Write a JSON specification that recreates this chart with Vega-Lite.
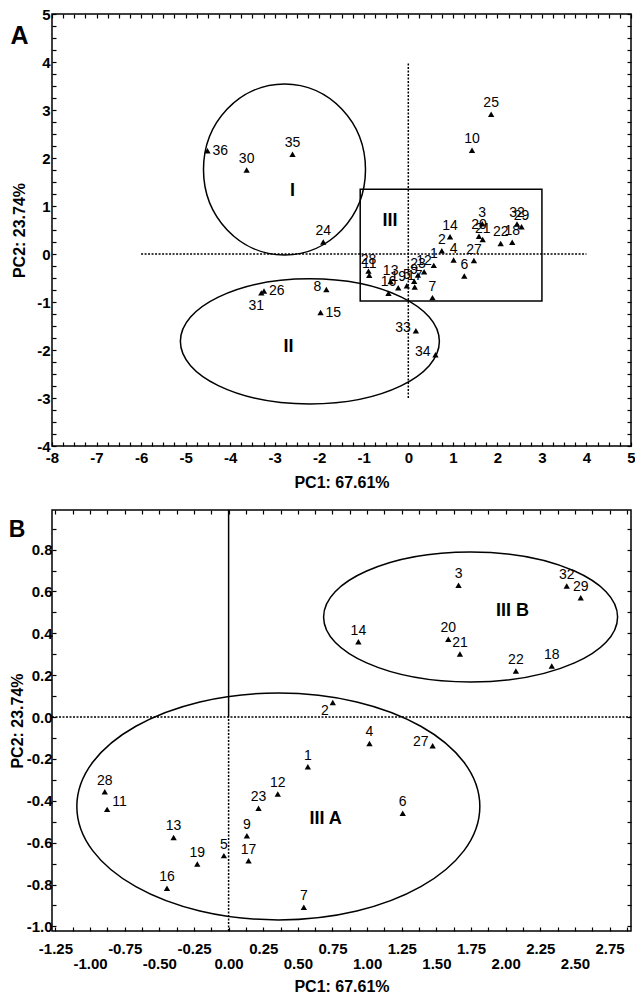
{
  "$schema": "https://vega.github.io/schema/vega-lite/v6.json",
  "background": "white",
  "padding": {"left": 8, "top": 6, "right": 0, "bottom": 0},
  "spacing": 17,
  "config": {
    "font": "Liberation Sans",
    "view": {"stroke": "black", "strokeWidth": 1.5},
    "axis": {
      "labelFont": "Liberation Sans", "labelFontSize": 15, "labelFontWeight": "bold", "labelColor": "black",
      "titleFont": "Liberation Sans", "titleFontSize": 16, "titleFontWeight": "bold", "titleColor": "black",
      "gridColor": "#d2d2d2", "gridDash": [2, 1], "gridWidth": 1,
      "domain": false,
      "tickColor": "black", "tickSize": -4, "tickWidth": 1.2,
      "labelFlush": false, "labelOverlap": false, "labelBound": false
    }
  },
  "datasets": {
    "pts": [
      {"id": 1, "pc1": 0.572, "pc2": -0.237, "grp": "III A"},
      {"id": 2, "pc1": 0.752, "pc2": 0.070, "grp": "III A"},
      {"id": 3, "pc1": 1.660, "pc2": 0.630, "grp": "III B"},
      {"id": 4, "pc1": 1.017, "pc2": -0.126, "grp": "III A"},
      {"id": 5, "pc1": -0.034, "pc2": -0.662, "grp": "III A"},
      {"id": 6, "pc1": 1.257, "pc2": -0.460, "grp": "III A"},
      {"id": 7, "pc1": 0.543, "pc2": -0.909, "grp": "III A"},
      {"id": 8, "pc1": -1.84, "pc2": -0.74, "grp": "II"},
      {"id": 9, "pc1": 0.132, "pc2": -0.567, "grp": "III A"},
      {"id": 10, "pc1": 1.43, "pc2": 2.16, "grp": "none"},
      {"id": 11, "pc1": -0.877, "pc2": -0.441, "grp": "III A"},
      {"id": 12, "pc1": 0.355, "pc2": -0.368, "grp": "III A"},
      {"id": 13, "pc1": -0.397, "pc2": -0.575, "grp": "III A"},
      {"id": 14, "pc1": 0.937, "pc2": 0.360, "grp": "III B"},
      {"id": 15, "pc1": -1.97, "pc2": -1.22, "grp": "II"},
      {"id": 16, "pc1": -0.445, "pc2": -0.818, "grp": "III A"},
      {"id": 17, "pc1": 0.144, "pc2": -0.686, "grp": "III A"},
      {"id": 18, "pc1": 2.333, "pc2": 0.244, "grp": "III B"},
      {"id": 19, "pc1": -0.226, "pc2": -0.702, "grp": "III A"},
      {"id": 20, "pc1": 1.586, "pc2": 0.372, "grp": "III B"},
      {"id": 21, "pc1": 1.670, "pc2": 0.301, "grp": "III B"},
      {"id": 22, "pc1": 2.074, "pc2": 0.220, "grp": "III B"},
      {"id": 23, "pc1": 0.216, "pc2": -0.436, "grp": "III A"},
      {"id": 24, "pc1": -1.91, "pc2": 0.25, "grp": "I"},
      {"id": 25, "pc1": 1.86, "pc2": 2.91, "grp": "none"},
      {"id": 26, "pc1": -3.24, "pc2": -0.77, "grp": "II"},
      {"id": 27, "pc1": 1.473, "pc2": -0.137, "grp": "III A"},
      {"id": 28, "pc1": -0.894, "pc2": -0.357, "grp": "III A"},
      {"id": 29, "pc1": 2.542, "pc2": 0.570, "grp": "III B"},
      {"id": 30, "pc1": -3.63, "pc2": 1.75, "grp": "I"},
      {"id": 31, "pc1": -3.30, "pc2": -0.81, "grp": "II"},
      {"id": 32, "pc1": 2.441, "pc2": 0.626, "grp": "III B"},
      {"id": 33, "pc1": 0.17, "pc2": -1.60, "grp": "II"},
      {"id": 34, "pc1": 0.61, "pc2": -2.10, "grp": "II"},
      {"id": 35, "pc1": -2.60, "pc2": 2.08, "grp": "I"},
      {"id": 36, "pc1": -4.51, "pc2": 2.15, "grp": "I"}
    ],
    "groupsA": [
      {"name": "I", "pc1": -2.78, "pc2": 1.76},
      {"name": "II", "pc1": -2.21, "pc2": -1.82}
    ],
    "groupsB": [
      {"name": "III A", "pc1": 0.359, "pc2": -0.427},
      {"name": "III B", "pc1": 1.747, "pc2": 0.478}
    ],
    "regionsA": [
      {"label": "I", "pc1": -2.6, "pc2": 1.31},
      {"label": "II", "pc1": -2.69, "pc2": -1.94},
      {"label": "III", "pc1": -0.41, "pc2": 0.68}
    ],
    "regionsB": [
      {"label": "III A", "pc1": 0.70, "pc2": -0.487},
      {"label": "III B", "pc1": 2.05, "pc2": 0.506}
    ],
    "panelA": [{"label": "A", "pc1": -8.73, "pc2": 4.54}],
    "panelB": [{"label": "B", "pc1": -1.527, "pc2": 0.895}],
    "boxA": [{"pc1": -1.08, "pc1_2": 3.0, "pc2": -0.98, "pc2_2": 1.35}],
    "zeroA": [
      {"pc1": -6, "pc1_2": 4, "pc2": 0, "pc2_2": 0},
      {"pc1": 0, "pc1_2": 0, "pc2": -3, "pc2_2": 4}
    ],
    "zeroBdotted": [
      {"pc1": -1.275, "pc1_2": 2.905, "pc2": 0, "pc2_2": 0},
      {"pc1": 0, "pc1_2": 0, "pc2": -1.022, "pc2_2": 0}
    ],
    "zeroBsolid": [
      {"pc1": 0, "pc1_2": 0, "pc2": 0, "pc2_2": 0.989}
    ]
  },
  "vconcat": [
    {
      "width": 579,
      "height": 432,
      "resolve": {"axis": {"x": "independent", "y": "independent"}},
      "encoding": {
        "x": {"field": "pc1", "type": "quantitative", "scale": {"domain": [-8, 5], "nice": false, "zero": false}, "axis": null},
        "y": {"field": "pc2", "type": "quantitative", "scale": {"domain": [-4, 5], "nice": false, "zero": false}, "axis": null}
      },
      "layer": [
        {
          "data": {"name": "boxA"},
          "mark": {"type": "rect", "filled": false, "color": "black", "strokeWidth": 1.5},
          "encoding": {
            "x": {"field": "pc1", "type": "quantitative", "scale": {"domain": [-8, 5], "nice": false, "zero": false},
                  "axis": {"orient": "top", "title": null, "labels": false, "grid": false, "domain": false,
                           "values": [-8,-7.75,-7.5,-7.25,-7,-6.75,-6.5,-6.25,-6,-5.75,-5.5,-5.25,-5,-4.75,-4.5,-4.25,-4,-3.75,-3.5,-3.25,-3,-2.75,-2.5,-2.25,-2,-1.75,-1.5,-1.25,-1,-0.75,-0.5,-0.25,0,0.25,0.5,0.75,1,1.25,1.5,1.75,2,2.25,2.5,2.75,3,3.25,3.5,3.75,4,4.25,4.5,4.75,5]}},
            "y": {"field": "pc2", "type": "quantitative", "scale": {"domain": [-4, 5], "nice": false, "zero": false},
                  "axis": {"orient": "right", "title": null, "labels": false, "grid": false, "domain": false,
                           "values": [-4,-3.75,-3.5,-3.25,-3,-2.75,-2.5,-2.25,-2,-1.75,-1.5,-1.25,-1,-0.75,-0.5,-0.25,0,0.25,0.5,0.75,1,1.25,1.5,1.75,2,2.25,2.5,2.75,3,3.25,3.5,3.75,4,4.25,4.5,4.75,5]}},
            "x2": {"field": "pc1_2"}, "y2": {"field": "pc2_2"}
          }
        },
        {
          "data": {"name": "zeroA"},
          "mark": {"type": "rule", "color": "black", "strokeWidth": 1.5, "strokeDash": [2, 1.5]},
          "encoding": {"x2": {"field": "pc1_2"}, "y2": {"field": "pc2_2"}}
        },
        {
          "data": {"name": "groupsA"},
          "transform": [{"filter": "datum.name == 'I'"}],
          "mark": {"type": "point", "filled": false, "color": "black", "strokeWidth": 1.5, "opacity": 1, "size": 26244,
                   "shape": "M1,0C1,0.5832,0.5523,1.056,0,1.056C-0.5523,1.056,-1,0.5832,-1,0C-1,-0.5832,-0.5523,-1.056,0,-1.056C0.5523,-1.056,1,-0.5832,1,0Z"}
        },
        {
          "data": {"name": "groupsA"},
          "transform": [{"filter": "datum.name == 'II'"}],
          "mark": {"type": "point", "filled": false, "color": "black", "strokeWidth": 1.5, "opacity": 1, "size": 67081,
                   "shape": "M1,0C1,0.2668,0.5523,0.483,0,0.483C-0.5523,0.483,-1,0.2668,-1,0C-1,-0.2668,-0.5523,-0.483,0,-0.483C0.5523,-0.483,1,-0.2668,1,0Z"}
        },
        {
          "data": {"name": "regionsA"},
          "mark": {"type": "text", "font": "Liberation Sans", "fontSize": 18, "fontWeight": "bold", "color": "black"},
          "encoding": {"text": {"field": "label"}}
        },
        {
          "data": {"name": "panelA"},
          "mark": {"type": "text", "font": "Liberation Sans", "fontSize": 25, "fontWeight": "bold", "color": "black"},
          "encoding": {"text": {"field": "label"}}
        },
        {
          "data": {"name": "pts"},
          "mark": {"type": "point", "shape": "triangle-up", "filled": true, "color": "black", "size": 40, "opacity": 1},
          "encoding": {
            "x": {"field": "pc1", "type": "quantitative", "scale": {"domain": [-8, 5], "nice": false, "zero": false},
                  "axis": {"orient": "bottom", "title": "PC1: 67.61%",
                           "values": [-8,-7.75,-7.5,-7.25,-7,-6.75,-6.5,-6.25,-6,-5.75,-5.5,-5.25,-5,-4.75,-4.5,-4.25,-4,-3.75,-3.5,-3.25,-3,-2.75,-2.5,-2.25,-2,-1.75,-1.5,-1.25,-1,-0.75,-0.5,-0.25,0,0.25,0.5,0.75,1,1.25,1.5,1.75,2,2.25,2.5,2.75,3,3.25,3.5,3.75,4,4.25,4.5,4.75,5],
                           "labelExpr": "datum.value % 1 != 0 ? '' : (datum.value < 0 ? '-' + format(-datum.value, 'd') : format(datum.value, 'd'))",
                           "gridOpacity": {"condition": {"test": "datum.value % 1 == 0", "value": 1}, "value": 0},
                           "labelPadding": 8, "titlePadding": 9}},
            "y": {"field": "pc2", "type": "quantitative", "scale": {"domain": [-4, 5], "nice": false, "zero": false},
                  "axis": {"orient": "left", "title": "PC2: 23.74%",
                           "values": [-4,-3.75,-3.5,-3.25,-3,-2.75,-2.5,-2.25,-2,-1.75,-1.5,-1.25,-1,-0.75,-0.5,-0.25,0,0.25,0.5,0.75,1,1.25,1.5,1.75,2,2.25,2.5,2.75,3,3.25,3.5,3.75,4,4.25,4.5,4.75,5],
                           "labelExpr": "datum.value % 1 != 0 ? '' : (datum.value < 0 ? '-' + format(-datum.value, 'd') : format(datum.value, 'd'))",
                           "gridOpacity": {"condition": {"test": "datum.value % 1 == 0", "value": 1}, "value": 0},
                           "labelPadding": 6, "titlePadding": 9}}
          }
        },
        {
          "data": {"name": "pts"},
          "transform": [{"filter": {"not": {"field": "id", "oneOf": [8, 33, 34, 36, 26, 15, 31]}}}],
          "mark": {"type": "text", "font": "Liberation Sans", "fontSize": 14, "color": "black", "dy": -11},
          "encoding": {"text": {"field": "id", "type": "nominal"}}
        },
        {
          "data": {"name": "pts"},
          "transform": [{"filter": {"field": "id", "oneOf": [8, 33, 34]}}],
          "mark": {"type": "text", "font": "Liberation Sans", "fontSize": 14, "color": "black", "align": "right", "dx": -5, "dy": -3},
          "encoding": {"text": {"field": "id", "type": "nominal"}}
        },
        {
          "data": {"name": "pts"},
          "transform": [{"filter": {"field": "id", "oneOf": [36, 26, 15]}}],
          "mark": {"type": "text", "font": "Liberation Sans", "fontSize": 14, "color": "black", "align": "left", "dx": 5, "dy": 0},
          "encoding": {"text": {"field": "id", "type": "nominal"}}
        },
        {
          "data": {"name": "pts"},
          "transform": [{"filter": {"field": "id", "oneOf": [31]}}],
          "mark": {"type": "text", "font": "Liberation Sans", "fontSize": 14, "color": "black", "dx": -5, "dy": 13},
          "encoding": {"text": {"field": "id", "type": "nominal"}}
        }
      ]
    },
    {
      "width": 579,
      "height": 421,
      "resolve": {"axis": {"x": "independent", "y": "independent"}},
      "encoding": {
        "x": {"field": "pc1", "type": "quantitative", "scale": {"domain": [-1.275, 2.905], "nice": false, "zero": false}, "axis": null},
        "y": {"field": "pc2", "type": "quantitative", "scale": {"domain": [-1.022, 0.989], "nice": false, "zero": false}, "axis": null}
      },
      "layer": [
        {
          "data": {"name": "zeroBdotted"},
          "mark": {"type": "rule", "color": "black", "strokeWidth": 1.5, "strokeDash": [2, 1.5]},
          "encoding": {"x2": {"field": "pc1_2"}, "y2": {"field": "pc2_2"}}
        },
        {
          "data": {"name": "zeroBsolid"},
          "mark": {"type": "rule", "color": "black", "strokeWidth": 1.5},
          "encoding": {
            "x": {"field": "pc1", "type": "quantitative", "scale": {"domain": [-1.275, 2.905], "nice": false, "zero": false},
                  "axis": {"orient": "top", "title": null, "labels": false, "grid": false, "domain": false,
                           "values": [-1.25,-1.125,-1,-0.875,-0.75,-0.625,-0.5,-0.375,-0.25,-0.125,0,0.125,0.25,0.375,0.5,0.625,0.75,0.875,1,1.125,1.25,1.375,1.5,1.625,1.75,1.875,2,2.125,2.25,2.375,2.5,2.625,2.75,2.875]}},
            "y": {"field": "pc2", "type": "quantitative", "scale": {"domain": [-1.022, 0.989], "nice": false, "zero": false},
                  "axis": {"orient": "right", "title": null, "labels": false, "grid": false, "domain": false,
                           "values": [-1,-0.9,-0.8,-0.7,-0.6,-0.5,-0.4,-0.3,-0.2,-0.1,0,0.1,0.2,0.3,0.4,0.5,0.6,0.7,0.8,0.9]}},
            "x2": {"field": "pc1_2"}, "y2": {"field": "pc2_2"}
          }
        },
        {
          "data": {"name": "groupsB"},
          "transform": [{"filter": "datum.name == 'III A'"}],
          "mark": {"type": "point", "filled": false, "color": "black", "strokeWidth": 1.5, "opacity": 1, "size": 162409,
                   "shape": "M1,0C1,0.3109,0.5523,0.563,0,0.563C-0.5523,0.563,-1,0.3109,-1,0C-1,-0.3109,-0.5523,-0.563,0,-0.563C0.5523,-0.563,1,-0.3109,1,0Z"}
        },
        {
          "data": {"name": "groupsB"},
          "transform": [{"filter": "datum.name == 'III B'"}],
          "mark": {"type": "point", "filled": false, "color": "black", "strokeWidth": 1.5, "opacity": 1, "size": 86436,
                   "shape": "M1,0C1,0.2441,0.5523,0.442,0,0.442C-0.5523,0.442,-1,0.2441,-1,0C-1,-0.2441,-0.5523,-0.442,0,-0.442C0.5523,-0.442,1,-0.2441,1,0Z"}
        },
        {
          "data": {"name": "regionsB"},
          "mark": {"type": "text", "font": "Liberation Sans", "fontSize": 18, "fontWeight": "bold", "color": "black"},
          "encoding": {"text": {"field": "label"}}
        },
        {
          "data": {"name": "panelB"},
          "mark": {"type": "text", "font": "Liberation Sans", "fontSize": 23, "fontWeight": "bold", "color": "black"},
          "encoding": {"text": {"field": "label"}}
        },
        {
          "data": {"name": "pts"},
          "transform": [{"filter": {"field": "grp", "oneOf": ["III A", "III B"]}}],
          "mark": {"type": "point", "shape": "triangle-up", "filled": true, "color": "black", "size": 40, "opacity": 1},
          "encoding": {
            "x": {"field": "pc1", "type": "quantitative", "scale": {"domain": [-1.275, 2.905], "nice": false, "zero": false},
                  "axis": {"orient": "bottom", "title": "PC1: 67.61%",
                           "values": [-1.25,-1.125,-1,-0.875,-0.75,-0.625,-0.5,-0.375,-0.25,-0.125,0,0.125,0.25,0.375,0.5,0.625,0.75,0.875,1,1.125,1.25,1.375,1.5,1.625,1.75,1.875,2,2.125,2.25,2.375,2.5,2.625,2.75,2.875],
                           "labelExpr": "abs(round(datum.value*8)) % 2 == 1 ? '' : (datum.value < 0 ? '-' + format(-datum.value, '.2f') : format(datum.value, '.2f'))",
                           "gridOpacity": {"condition": {"test": "abs(round(datum.value*8)) % 2 == 0", "value": 1}, "value": 0},
                           "labelPadding": {"condition": {"test": "abs(round(datum.value*4)) % 2 == 1", "value": 14}, "value": 29},
                           "titlePadding": 7}},
            "y": {"field": "pc2", "type": "quantitative", "scale": {"domain": [-1.022, 0.989], "nice": false, "zero": false},
                  "axis": {"orient": "left", "title": "PC2: 23.74%",
                           "values": [-1,-0.9,-0.8,-0.7,-0.6,-0.5,-0.4,-0.3,-0.2,-0.1,0,0.1,0.2,0.3,0.4,0.5,0.6,0.7,0.8,0.9],
                           "labelExpr": "abs(round(datum.value*10)) % 2 == 1 ? '' : (datum.value < -0.001 ? '-' + format(-datum.value, '.1f') : format(abs(datum.value), '.1f'))",
                           "gridOpacity": {"condition": {"test": "abs(round(datum.value*10)) % 2 == 0", "value": 1}, "value": 0},
                           "labelPadding": 4, "titlePadding": 1}}
          }
        },
        {
          "data": {"name": "pts"},
          "transform": [{"filter": {"field": "grp", "oneOf": ["III A", "III B"]}}, {"filter": {"not": {"field": "id", "oneOf": [11, 27, 2]}}}],
          "mark": {"type": "text", "font": "Liberation Sans", "fontSize": 14, "color": "black", "dy": -11},
          "encoding": {"text": {"field": "id", "type": "nominal"}}
        },
        {
          "data": {"name": "pts"},
          "transform": [{"filter": {"field": "id", "oneOf": [11]}}],
          "mark": {"type": "text", "font": "Liberation Sans", "fontSize": 14, "color": "black", "align": "left", "dx": 5, "dy": -7},
          "encoding": {"text": {"field": "id", "type": "nominal"}}
        },
        {
          "data": {"name": "pts"},
          "transform": [{"filter": {"field": "id", "oneOf": [27]}}],
          "mark": {"type": "text", "font": "Liberation Sans", "fontSize": 14, "color": "black", "align": "right", "dx": -4, "dy": -4},
          "encoding": {"text": {"field": "id", "type": "nominal"}}
        },
        {
          "data": {"name": "pts"},
          "transform": [{"filter": {"field": "id", "oneOf": [2]}}],
          "mark": {"type": "text", "font": "Liberation Sans", "fontSize": 14, "color": "black", "align": "right", "dx": -4, "dy": 9},
          "encoding": {"text": {"field": "id", "type": "nominal"}}
        }
      ]
    }
  ]
}
